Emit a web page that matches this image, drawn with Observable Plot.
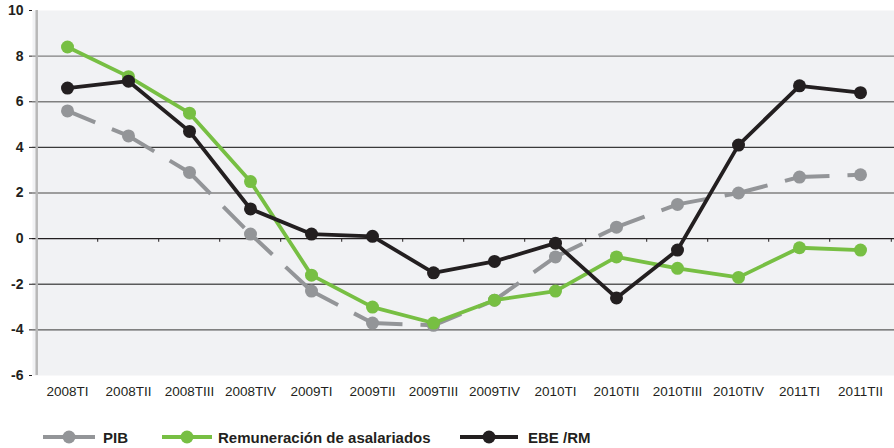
<!DOCTYPE html>
<html><head><meta charset="utf-8">
<script src="https://cdn.jsdelivr.net/npm/d3@7"></script>
<script src="https://cdn.jsdelivr.net/npm/@observablehq/plot@0.6"></script>
<style>
body{margin:0;background:#fff;font-family:"Liberation Sans",Arial,sans-serif;}
#legend{position:relative;height:43px;width:894px;}
.item{position:absolute;top:22px;height:20px;display:flex;align-items:center;font-weight:bold;font-size:15px;color:#231f20;white-space:nowrap;}
.item svg{display:block;}
</style></head><body>
<div id="chart"></div><div id="legend"></div>
<script>
const quarters = ["2008TI","2008TII","2008TIII","2008TIV","2009TI","2009TII","2009TIII","2009TIV","2010TI","2010TII","2010TIII","2010TIV","2011TI","2011TII"];
const pib          = [5.6, 4.5, 2.9, 0.2, -2.3, -3.7, -3.8, -2.7, -0.8, 0.5, 1.5, 2.0, 2.7, 2.8];
const remuneracion = [8.4, 7.1, 5.5, 2.5, -1.6, -3.0, -3.7, -2.7, -2.3, -0.8, -1.3, -1.7, -0.4, -0.5];
const ebe          = [6.6, 6.9, 4.7, 1.3, 0.2, 0.1, -1.5, -1.0, -0.2, -2.6, -0.5, 4.1, 6.7, 6.4];
const yTicks = [-6, -4, -2, 0, 2, 4, 6, 8, 10];
const gridLines = [-4, -2, 0, 2, 4, 6, 8];
const seriesNames = ["PIB", "Remuneración de asalariados", "EBE /RM"];

const GRAY = "#939598", GREEN = "#77bf43", BLACK = "#231f20";

const rows = quarters.map((q, i) => ({q, pib: pib[i], rem: remuneracion[i], ebe: ebe[i]}));
const pibSegs = quarters.slice(1).map((q, i) => ({a: quarters[i], b: q, v1: pib[i], v2: pib[i + 1]}));
const half = (894 - 32) / quarters.length / 2;

const chart = Plot.plot({
  width: 894, height: 405,
  marginLeft: 32, marginRight: 0, marginTop: 10, marginBottom: 30,
  style: {fontFamily: "Liberation Sans, Arial, sans-serif", background: "#fff"},
  x: {type: "point", domain: quarters, padding: 0.5},
  y: {domain: [-6, 10]},
  marks: [
    Plot.frame({fill: "#f1f2f4", stroke: null}),
    Plot.ruleY(gridLines, {y: d => d, stroke: d => d === 0 ? BLACK : d === 4 ? "#3a3a3a" : d < 0 ? "#5a5a5a" : "#808080", strokeWidth: 1.4}),
    Plot.ruleX(quarters, {x: d => d, dx: -half, y1: 0, y2: -0.16, stroke: BLACK, strokeWidth: 1}),
    Plot.ruleX(quarters.slice(-1), {x: d => d, dx: half, y1: 0, y2: -0.16, stroke: BLACK, strokeWidth: 1}),
    Plot.ruleX(quarters.slice(0, 1), {x: d => d, dx: -half, stroke: "#b8b8b8", strokeWidth: 2.5}),
    Plot.axisY(yTicks, {tickSize: 3, tickPadding: 6, fontSize: 14, fontWeight: "bold", tickFormat: d => String(d), color: BLACK}),
    Plot.axisX({tickSize: 0, tickPadding: 11, fontSize: 13.5, color: BLACK}),
    Plot.link(pibSegs, {x1: "a", x2: "b", y1: "v1", y2: "v2", stroke: GRAY, strokeWidth: 4, strokeDasharray: "30,18", strokeLinecap: "butt"}),
    Plot.dot(rows, {x: "q", y: "pib", r: 6.5, fill: GRAY, stroke: null}),
    Plot.line(rows, {x: "q", y: "rem", stroke: GREEN, strokeWidth: 3.8, strokeLinejoin: "round"}),
    Plot.dot(rows, {x: "q", y: "rem", r: 6.5, fill: GREEN, stroke: null}),
    Plot.line(rows, {x: "q", y: "ebe", stroke: BLACK, strokeWidth: 3.8, strokeLinejoin: "round"}),
    Plot.dot(rows, {x: "q", y: "ebe", r: 6.5, fill: BLACK, stroke: null})
  ]
});
document.getElementById("chart").appendChild(chart);

const legendItems = [
  {name: seriesNames[0], color: GRAY, left: 43, w: 52, gap: 8},
  {name: seriesNames[1], color: GREEN, left: 162, w: 50, gap: 6},
  {name: seriesNames[2], color: BLACK, left: 460, w: 58, gap: 10}
];
const legend = document.getElementById("legend");
for (const it of legendItems) {
  const div = document.createElement("div");
  div.className = "item";
  div.style.left = it.left + "px";
  div.innerHTML = `<svg width="${it.w}" height="16"><line x1="0" x2="${it.w}" y1="8" y2="8" stroke="${it.color}" stroke-width="4"/><circle cx="${it.w / 2}" cy="8" r="6.5" fill="${it.color}"/></svg><span style="margin-left:${it.gap}px">${it.name}</span>`;
  legend.appendChild(div);
}
</script>
</body></html>
